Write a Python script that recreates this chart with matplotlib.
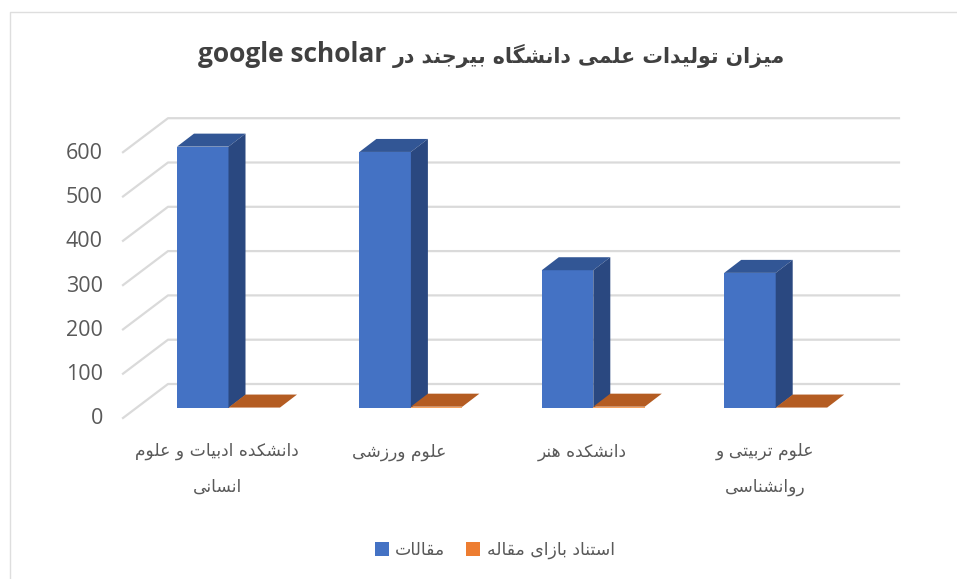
import matplotlib
matplotlib.use("Agg")
import matplotlib.pyplot as plt
from matplotlib.patches import Polygon, Rectangle

categories = ["دانشکده ادبیات و علوم\nانسانی", "علوم ورزشی", "دانشکده هنر", "علوم تربیتی و\nروانشناسی"]
articles = [590, 578, 311, 305]
citations = [1, 3, 3, 1]
tick_values = [0, 100, 200, 300, 400, 500, 600]
title_fa = "میزان تولیدات علمی دانشگاه بیرجند در"
title_en = "google scholar"
series_names = ["مقالات", "استناد بازای مقاله"]

FORMS = {
 'ا':(0xFE8D,0xFE8E,None,None),'آ':(0xFE81,0xFE82,None,None),'ب':(0xFE8F,0xFE90,0xFE91,0xFE92),
 'پ':(0xFB56,0xFB57,0xFB58,0xFB59),'ت':(0xFE95,0xFE96,0xFE97,0xFE98),'ج':(0xFE9D,0xFE9E,0xFE9F,0xFEA0),
 'د':(0xFEA9,0xFEAA,None,None),'ر':(0xFEAD,0xFEAE,None,None),'ز':(0xFEAF,0xFEB0,None,None),
 'س':(0xFEB1,0xFEB2,0xFEB3,0xFEB4),'ش':(0xFEB5,0xFEB6,0xFEB7,0xFEB8),'ع':(0xFEC9,0xFECA,0xFECB,0xFECC),
 'ق':(0xFED5,0xFED6,0xFED7,0xFED8),'ل':(0xFEDD,0xFEDE,0xFEDF,0xFEE0),'م':(0xFEE1,0xFEE2,0xFEE3,0xFEE4),
 'ن':(0xFEE5,0xFEE6,0xFEE7,0xFEE8),'ه':(0xFEE9,0xFEEA,0xFEEB,0xFEEC),'و':(0xFEED,0xFEEE,None,None),
 'ی':(0xFBFC,0xFBFD,0xFBFE,0xFBFF),'ک':(0xFB8E,0xFB8F,0xFB90,0xFB91),'گ':(0xFB92,0xFB93,0xFB94,0xFB95),
 'ئ':(0xFE89,0xFE8A,0xFE8B,0xFE8C),
}
def shape(s):
    out = []
    for i, c in enumerate(s):
        if c not in FORMS:
            out.append(c); continue
        f = FORMS[c]
        prev = s[i-1] if i else ''
        nxt = s[i+1] if i+1 < len(s) else ''
        jp = prev in FORMS and FORMS[prev][2] is not None
        jn = nxt in FORMS and f[2] is not None
        if jp and jn: k = 3
        elif jp: k = 1
        elif jn: k = 2
        else: k = 0
        out.append(chr(f[k]))
    return ''.join(reversed(out))
def shape_lines(s):
    return '\n'.join(shape(l) for l in s.split('\n'))

W, H = 957, 579
FONT = ['DejaVu Sans']
fig = plt.figure(figsize=(W/100, H/100), dpi=100, facecolor='white')
ax = fig.add_axes([0, 0, 1, 1])
ax.set_xlim(0, W); ax.set_ylim(H, 0); ax.axis('off')

# chart frame
ax.plot([10, 10, 957], [579, 12, 12], color='#DEDEDE', lw=1)

# scale: value -> pixel row of the bars' front plane
base_y, unit = 408.0, 0.443
def vy(v): return base_y - v*unit

# walls / gridlines
for v in tick_values:
    y = vy(v)
    ax.plot([123, 168, 899], [y+10, y-24, y-24], color='#DADADA', lw=1.6, zorder=1)
    ax.text(103, y+11, str(v), ha='right', va='center', fontsize=15.5, color='#595959', family='Open Sans', zorder=5)

blue, blue_top, blue_side = '#4472C4', '#325695', '#2A4880'
or_top, or_front = '#B45C22', '#F4A261'
bar_w, bar_x0, step = 51.5, 177, 182.4
dx_b, dy_b = 17, -13

for i, (a, c) in enumerate(zip(articles, citations)):
    x0 = bar_x0 + i*step
    ytop = vy(a)
    ax.add_patch(Rectangle((x0, ytop), bar_w, base_y-ytop, fc=blue, ec='none', zorder=3))
    ax.add_patch(Polygon([(x0, ytop), (x0+dx_b, ytop+dy_b), (x0+bar_w+dx_b, ytop+dy_b), (x0+bar_w, ytop)], fc=blue_top, ec='none', zorder=3))
    ax.add_patch(Polygon([(x0+bar_w, ytop), (x0+bar_w+dx_b, ytop+dy_b), (x0+bar_w+dx_b, base_y+dy_b), (x0+bar_w, base_y)], fc=blue_side, ec='none', zorder=3))
    ox = x0 + bar_w
    oy = vy(c)
    ax.add_patch(Polygon([(ox, oy), (ox+dx_b, oy+dy_b), (ox+bar_w+dx_b, oy+dy_b), (ox+bar_w, oy)], fc=or_top, ec='none', zorder=4))
    ax.add_patch(Rectangle((ox, oy), bar_w, base_y-oy, fc=or_front, ec='none', zorder=4))
    two = '\n' in categories[i]
    ax.text(217 + i*182.6, 469 if two else 452, shape_lines(categories[i]), ha='center', va='center',
            fontsize=12.3, color='#595959', family=FONT, linespacing=2.3, zorder=5)

# title
ax.text(785, 56, shape(title_fa), ha='right', va='center', fontsize=14.8, fontweight='bold', color='#404040', family=FONT)
ax.text(198, 55, title_en, ha='left', va='center', fontsize=19, fontweight='bold', color='#404040', family='Open Sans')

# legend
ax.add_patch(Rectangle((375, 542), 14, 14, fc=blue, ec='none'))
ax.text(395, 550, shape(series_names[0]), ha='left', va='center', fontsize=12.4, color='#595959', family=FONT)
ax.add_patch(Rectangle((466, 542), 14, 14, fc='#ED7D31', ec='none'))
ax.text(487, 550, shape(series_names[1]), ha='left', va='center', fontsize=12.4, color='#595959', family=FONT)

fig.savefig('out.png', dpi=100)
